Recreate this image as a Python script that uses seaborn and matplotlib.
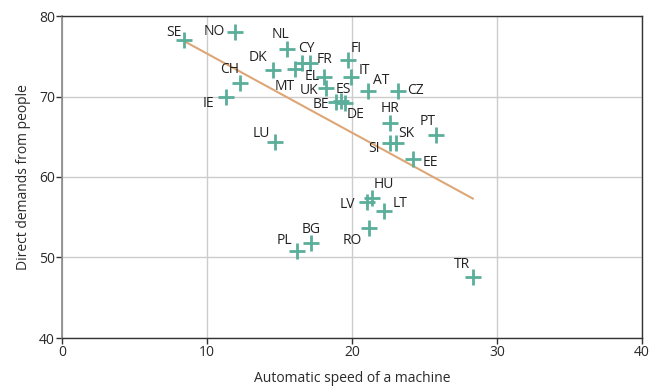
import matplotlib
matplotlib.use("Agg")
import matplotlib.pyplot as plt
import seaborn as sns
import pandas as pd

# Country codes and their scores
countries = ["SE", "NO", "NL", "CY", "DK", "FR", "CH", "EL", "IT", "FI", "MT", "UK",
             "ES", "AT", "CZ", "BE", "DE", "IE", "LU", "HR", "SK", "PT", "SI", "EE",
             "HU", "LV", "LT", "RO", "BG", "PL", "TR"]
speed = [8.4, 11.9, 15.5, 16.55, 14.55, 17.1, 12.3, 18.1, 19.9, 19.7, 16.1, 18.2,
         19.25, 21.1, 23.2, 18.9, 19.5, 11.3, 14.7, 22.6, 23.0, 25.8, 22.6, 24.2,
         21.4, 21.0, 22.2, 21.2, 17.2, 16.2, 28.35]
demands = [77.0, 78.0, 75.9, 74.1, 73.3, 74.2, 71.7, 72.4, 72.4, 74.5, 73.4, 71.1,
           69.4, 70.7, 70.7, 69.3, 69.2, 69.9, 64.3, 66.7, 64.2, 65.2, 64.2, 62.2,
           57.4, 56.9, 55.8, 53.7, 51.8, 50.8, 47.6]

# Label placement relative to each marker (pixels, +y is up)
label_offsets = {
    "SE": (-10, 8), "NO": (-20, 1), "NL": (-6, 15), "CY": (4, 15), "DK": (-15, 12),
    "FR": (15, 3), "CH": (-11, 13), "EL": (-12, 1), "IT": (14, 7), "FI": (9, 12),
    "MT": (-11, -17), "UK": (-17, -3), "ES": (2, 12), "AT": (13, 10), "CZ": (17, 0),
    "BE": (-15, -2), "DE": (11, -12), "IE": (-17, -6), "LU": (-14, 9), "HR": (0, 15),
    "SK": (11, 10), "PT": (-8, 14), "SI": (-16, -5), "EE": (17, -3), "HU": (12, 13),
    "LV": (-19, -3), "LT": (16, 7), "RO": (-17, -13), "BG": (0, 14), "PL": (-12, 11),
    "TR": (-11, 12),
}

df = pd.DataFrame({"country": countries, "speed": speed, "demands": demands})

sns.set_theme(style="white")
plt.rcParams["font.family"] = ["Open Sans", "DejaVu Sans"]

fig = plt.figure(figsize=(6.62, 3.86), dpi=100)
ax = fig.add_axes([62 / 662, 1 - 338 / 386, 580 / 662, 322 / 386])

point_color = "#5aae9a"
line_color = "#dea676"

sns.regplot(data=df, x="speed", y="demands", ax=ax, scatter=False, ci=None,
            line_kws={"color": line_color, "linewidth": 1.5, "zorder": 2})
sns.scatterplot(data=df, x="speed", y="demands", ax=ax, marker="+", s=125,
                color=point_color, linewidth=2.0, zorder=3)

for c, xv, yv in zip(countries, speed, demands):
    dx, dy = label_offsets[c]
    ax.annotate(c, (xv, yv), xytext=(dx, dy), textcoords="offset pixels",
                ha="center", va="center", fontsize=10, color="#222222", zorder=4)

ax.set_xlim(0, 40)
ax.set_ylim(40, 80)
ax.set_xticks([0, 10, 20, 30, 40])
ax.set_yticks([40, 50, 60, 70, 80])
ax.grid(True, color="#cccccc", linewidth=1.0)
ax.set_axisbelow(True)

for side in ["top", "right", "bottom"]:
    ax.spines[side].set_color("#333333")
    ax.spines[side].set_linewidth(1.0)
ax.spines["left"].set_color("#888888")
ax.spines["left"].set_linewidth(1.2)

ax.tick_params(axis="both", direction="out", length=4, width=1, color="#333333",
               labelsize=10, labelcolor="#2a2a2a", pad=1, bottom=True, left=True)

ax.set_xlabel("Automatic speed of a machine", fontsize=10, color="#2a2a2a", labelpad=8)
ax.set_ylabel("Direct demands from people", fontsize=10, color="#2a2a2a", labelpad=6)

fig.savefig("out.png", dpi=100)
